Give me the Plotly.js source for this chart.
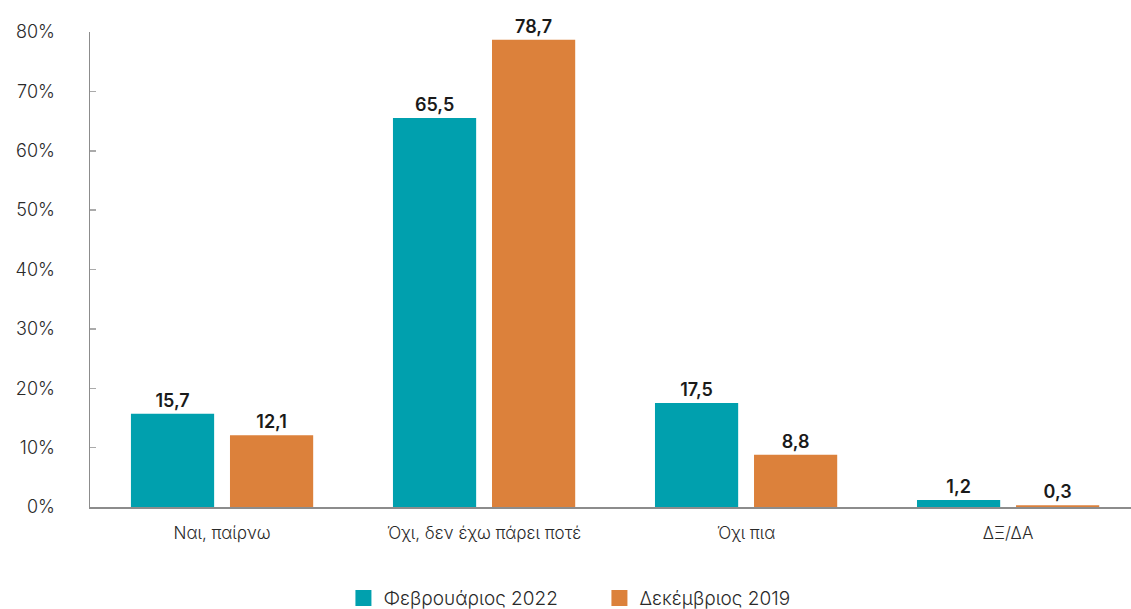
<!DOCTYPE html>
<html><head><meta charset="utf-8">
<script src="https://cdn.plot.ly/plotly-3.0.1.min.js"></script>
<style>html,body{margin:0;padding:0;background:#fff}#chart{width:1131px;height:609px}</style>
</head><body><div id="chart"></div>
<script>
const categories = ["Ναι, παίρνω", "Όχι, δεν έχω πάρει ποτέ", "Όχι πια", "ΔΞ/ΔΑ"];
const seriesNames = ["Φεβρουάριος 2022", "Δεκέμβριος 2019"];
const feb2022 = [15.7, 65.5, 17.5, 1.2];
const dec2019 = [12.1, 78.7, 8.8, 0.3];
const yTickVals = [0, 10, 20, 30, 40, 50, 60, 70, 80];
const yTickText = ["0%", "10%", "20%", "30%", "40%", "50%", "60%", "70%", "80%"];
const colors = ['#00A0AE', '#DC813B'];

const fmt = v => v.toFixed(1).replace('.', ',');
const font = "Inter, 'Noto Sans', sans-serif";
const mk = (name, vals, color) => ({
  type: 'bar', name: name, x: categories, y: vals,
  marker: {color: color}, showlegend: false,
  text: vals.map(fmt), textposition: 'outside', cliponaxis: false,
  textfont: {family: font, size: 18, color: '#1a1a1a', weight: 600},
  hoverinfo: 'none'
});
const leg = (name, color) => ({
  type: 'scatter', mode: 'markers', name: name, x: [null], y: [null],
  marker: {symbol: 'square', size: 18, color: color}, showlegend: true
});
const data = [mk(seriesNames[0], feb2022, colors[0]), mk(seriesNames[1], dec2019, colors[1]),
              leg(seriesNames[0], colors[0]), leg(seriesNames[1], colors[1])];
const layout = {
  width: 1131, height: 609,
  margin: {l: 90, r: 0, t: 32, b: 102},
  barmode: 'group', bargap: 0.244, bargroupgap: 0.16,
  paper_bgcolor: '#fff', plot_bgcolor: '#fff',
  font: {family: font, size: 17, color: '#333'},
  xaxis: {
    type: 'category', range: [-0.504, 3.469],
    showline: true, linecolor: '#8c8c8c', linewidth: 1.5,
    ticks: '', showgrid: false, ticklabelstandoff: 10,
    tickfont: {size: 17, color: '#2a2a2a', weight: 300}
  },
  yaxis: {
    range: [0, 80], tickvals: yTickVals, ticktext: yTickText,
    showline: true, linecolor: '#8c8c8c', linewidth: 1.5,
    ticks: 'inside', ticklen: 6, tickcolor: '#aaa', tickwidth: 1.5,
    showgrid: false, zeroline: false, ticklabelstandoff: 30,
    tickfont: {size: 18, color: '#2a2a2a', weight: 300}
  },
  showlegend: true,
  legend: {orientation: 'h', xref: 'container', yref: 'container',
    x: 0.53, xanchor: 'center', y: 0.018, yanchor: 'middle',
    font: {size: 19, color: '#2a2a2a', weight: 300}, itemwidth: 30, itemsizing: 'trace',
    traceorder: 'normal', entrywidth: 211},
  separators: ',.'
};
Plotly.newPlot('chart', data, layout, {displayModeBar: false, staticPlot: true});
</script></body></html>
